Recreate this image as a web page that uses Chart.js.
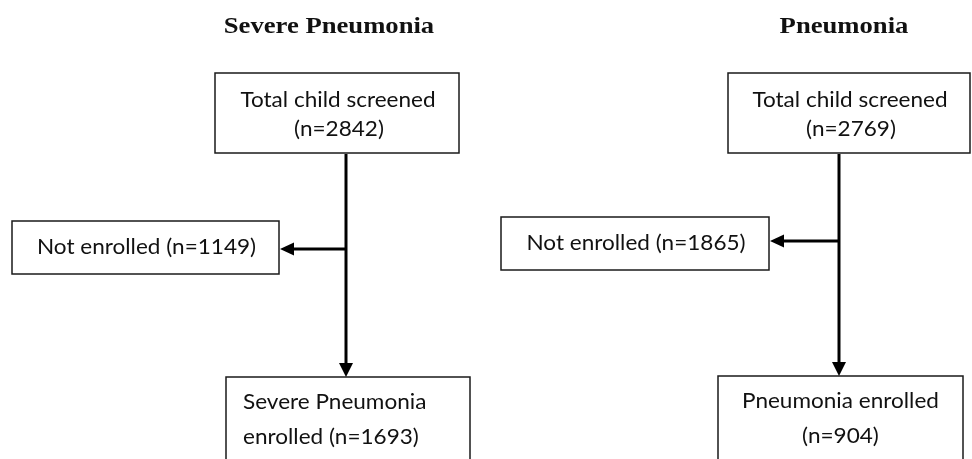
<!DOCTYPE html>
<html>
<head>
<meta charset="utf-8">
<script src="https://cdn.jsdelivr.net/npm/chart.js@4/dist/chart.umd.min.js"></script>
<style>
  html, body { margin: 0; padding: 0; background: #fff; }
  #wrap { width: 972px; height: 459px; }
</style>
</head>
<body>
<div id="wrap"><canvas id="flow" width="972" height="459"></canvas></div>
<script>
// flowchart data
const panels = ["Severe Pneumonia", "Pneumonia"];
const screened = [2842, 2769];
const notEnrolled = [1149, 1865];
const enrolled = [1693, 904];
const enrolledLines = [
  ["Severe Pneumonia", "enrolled (n=" + enrolled[0] + ")"],
  ["Pneumonia enrolled", "(n=" + enrolled[1] + ")"]
];

// layout of each panel, in canvas units (x1, y1, x2, y2)
const layout = [
  { titleX: 329, top: [215, 73, 459, 153], side: [12, 221, 279, 274],
    bottom: [226, 377, 470, 470], stemX: 346, branchY: 249, bottomAlign: "left" },
  { titleX: 844, top: [728, 73, 970, 153], side: [501, 217, 769, 270],
    bottom: [718, 376, 963, 470], stemX: 839, branchY: 241, bottomAlign: "center" }
];

const boxFont = { font: "20.5px Lato, 'Open Sans', sans-serif", stretch: 1.1 };
const titleFont = { font: "bold 24px 'Liberation Serif', 'Times New Roman', serif", stretch: 1.11 };

const flowPlugin = {
  id: "flow",
  afterDraw(chart) {
    const ctx = chart.ctx;
    const xs = chart.scales.x;
    const ys = chart.scales.y;
    const px = (v) => xs.getPixelForValue(v);
    const py = (v) => ys.getPixelForValue(v);

    function box(r) {
      ctx.save();
      ctx.strokeStyle = "#1a1a1a";
      ctx.lineWidth = 1.5;
      ctx.strokeRect(px(r[0]), py(r[1]), px(r[2]) - px(r[0]), py(r[3]) - py(r[1]));
      ctx.restore();
    }

    // text with a small horizontal stretch (the source glyphs are wide)
    function text(str, x, y, align, f) {
      ctx.save();
      ctx.fillStyle = "#111";
      ctx.font = f.font;
      ctx.textAlign = align;
      ctx.textBaseline = "alphabetic";
      ctx.translate(px(x), py(y));
      ctx.scale(f.stretch, 1);
      ctx.fillText(str, 0, 0);
      ctx.restore();
    }

    function line(x1, y1, x2, y2) {
      ctx.save();
      ctx.strokeStyle = "#000";
      ctx.lineWidth = 3;
      ctx.beginPath();
      ctx.moveTo(px(x1), py(y1));
      ctx.lineTo(px(x2), py(y2));
      ctx.stroke();
      ctx.restore();
    }

    function head(x, y, dir) {
      // filled triangle, tip at (x, y)
      const X = px(x), Y = py(y);
      ctx.save();
      ctx.fillStyle = "#000";
      ctx.beginPath();
      if (dir === "down") {
        ctx.moveTo(X, Y);
        ctx.lineTo(X - 7, Y - 14);
        ctx.lineTo(X + 7, Y - 14);
      } else {
        ctx.moveTo(X, Y);
        ctx.lineTo(X + 14, Y - 6.5);
        ctx.lineTo(X + 14, Y + 6.5);
      }
      ctx.closePath();
      ctx.fill();
      ctx.restore();
    }

    layout.forEach((L, i) => {
      text(panels[i], L.titleX, 33, "center", titleFont);

      // boxes
      box(L.top);
      box(L.side);
      box(L.bottom);

      const tc = (L.top[0] + L.top[2]) / 2;
      text("Total child screened", tc + 1, L.top[1] + 34, "center", boxFont);
      text("(n=" + screened[i] + ")", tc + 2, L.top[1] + 63, "center", boxFont);

      const sc = (L.side[0] + L.side[2]) / 2;
      text("Not enrolled (n=" + notEnrolled[i] + ")", sc + 1, L.side[1] + 33, "center", boxFont);

      const bc = (L.bottom[0] + L.bottom[2]) / 2;
      const bx = L.bottomAlign === "left" ? L.bottom[0] + 17 : bc;
      text(enrolledLines[i][0], bx, L.bottom[1] + 32, L.bottomAlign, boxFont);
      text(enrolledLines[i][1], bx, L.bottom[1] + 67, L.bottomAlign, boxFont);

      // connectors
      line(L.stemX, L.top[3] + 1, L.stemX, L.bottom[1] - 12);
      head(L.stemX, L.bottom[1], "down");
      line(L.stemX, L.branchY, L.side[2] + 12, L.branchY);
      head(L.side[2] + 1, L.branchY, "left");
    });
  }
};

new Chart(document.getElementById("flow"), {
  type: "scatter",
  data: { datasets: [{ data: [], pointRadius: 0 }] },
  options: {
    responsive: false,
    animation: false,
    events: [],
    layout: { padding: 0 },
    plugins: { legend: { display: false }, tooltip: { enabled: false } },
    scales: {
      x: { type: "linear", min: 0, max: 972, display: false },
      y: { type: "linear", min: 0, max: 459, reverse: true, display: false }
    }
  },
  plugins: [flowPlugin]
});
</script>
</body>
</html>
